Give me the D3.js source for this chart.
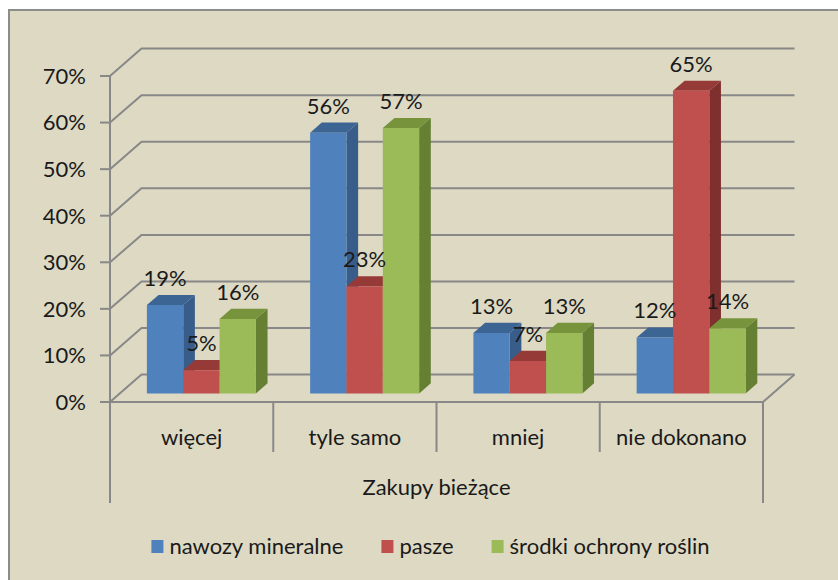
<!DOCTYPE html>
<html>
<head>
<meta charset="utf-8">
<script src="https://cdn.jsdelivr.net/npm/d3@7"></script>
<style>
  body { margin: 0; background: #fff; }
  text { font-family: Lato, "Liberation Sans", sans-serif; fill: #1a1a1a; }
</style>
</head>
<body>
<svg id="canvas"></svg>
<script>
//--chart data
const categories = ["więcej", "tyle samo", "mniej", "nie dokonano"];
const seriesNames = ["nawozy mineralne", "pasze", "środki ochrony roślin"];
const nawozy = [0.19, 0.56, 0.13, 0.12];
const pasze = [0.05, 0.23, 0.07, 0.65];
const srodki = [0.16, 0.57, 0.13, 0.14];
const yTicks = [0, 0.1, 0.2, 0.3, 0.4, 0.5, 0.6, 0.7];
const axisTitle = "Zakupy bieżące";
//--

//--canvas
let width = 838;
let height = 580;
let canvas = d3.select("#canvas").attr("width", width).attr("height", height);

// face colours: front, top, side
let colors = [
    ["#4F81BD", "#3C6594", "#385D8A"],
    ["#C0504D", "#963A38", "#7F2F2D"],
    ["#9BBB59", "#77933C", "#657F33"]
];
let gridColor = "#888888";
let fontSize = 22;

// depth offset of the 3d box
let DX = 31.5;
let DY = 27.4;
let z0 = 0.31, z1 = 0.68;
//--

canvas.append("rect")
    .attr("x", 9).attr("y", 10)
    .attr("width", width + 20).attr("height", height + 20)
    .attr("fill", "#DDD9C3")
    .attr("stroke", "#8C8C8C")
    .attr("stroke-width", 2);

let xScale = d3.scaleBand().domain(categories).range([110, 763]);
let yScale = d3.scaleLinear().domain([0, 0.7]).range([402, 76]);

let project = (x, v, z) => [x + z * DX, yScale(v) - z * DY];

let grid = canvas.append("g").attr("stroke", gridColor).attr("stroke-width", 2).attr("fill", "none");

// side wall and back wall gridlines
yTicks.forEach(t => {
    let a = project(xScale.range()[0], t, 0);
    let b = project(xScale.range()[0], t, 1);
    let c = project(xScale.range()[1], t, 1);
    grid.append("path").attr("d", d3.line()([a, b, c]));
});

// floor outline
let f1 = project(xScale.range()[0], 0, 0);
let f2 = project(xScale.range()[1], 0, 0);
let f3 = project(xScale.range()[1], 0, 1);
grid.append("path").attr("d", d3.line()([f1, f2, f3]));

// value axis line and ticks
grid.append("line").attr("x1", 110).attr("x2", 110).attr("y1", yScale(0.7)).attr("y2", 503);
yTicks.forEach(t => {
    grid.append("line").attr("x1", 100).attr("x2", 110).attr("y1", yScale(t)).attr("y2", yScale(t));
});

// category separators
categories.forEach((c, i) => {
    let x = xScale(c);
    if (i > 0) grid.append("line").attr("x1", x).attr("x2", x).attr("y1", 402).attr("y2", 452);
});
grid.append("line").attr("x1", 763).attr("x2", 763).attr("y1", 402).attr("y2", 503);

// tick labels
canvas.append("g").selectAll("text")
    .data(yTicks)
    .enter()
    .append("text")
    .attr("x", 86)
    .attr("y", d => yScale(d))
    .attr("dy", "0.36em")
    .attr("text-anchor", "end")
    .attr("font-size", fontSize)
    .text(d => Math.round(d * 100) + "%");

canvas.append("g").selectAll("text")
    .data(categories)
    .enter()
    .append("text")
    .attr("x", d => xScale(d) + xScale.bandwidth() / 2)
    .attr("y", 445)
    .attr("text-anchor", "middle")
    .attr("font-size", fontSize)
    .text(d => d);

canvas.append("text")
    .attr("x", (110 + 763) / 2)
    .attr("y", 495)
    .attr("text-anchor", "middle")
    .attr("font-size", fontSize)
    .text(axisTitle);

//--bars
let allSeries = [nawozy, pasze, srodki];
let groupWidth = 109 / 163.25;
let barW = xScale.bandwidth() * groupWidth / 3;
let bars = canvas.append("g");
let labels = canvas.append("g");

categories.forEach((c, i) => {
    let start = xScale(c) + xScale.bandwidth() * (1 - groupWidth) / 2;
    allSeries.forEach((s, j) => {
        let v = s[i];
        let xl = start + j * barW;
        let xr = xl + barW;
        let col = colors[j];
        let front = [project(xl, 0, z0), project(xr, 0, z0), project(xr, v, z0), project(xl, v, z0)];
        let top = [project(xl, v, z0), project(xr, v, z0), project(xr, v, z1), project(xl, v, z1)];
        let side = [project(xr, 0, z0), project(xr, 0, z1), project(xr, v, z1), project(xr, v, z0)];
        bars.append("path").attr("d", d3.line()(side) + "Z").attr("fill", col[2]);
        bars.append("path").attr("d", d3.line()(top) + "Z").attr("fill", col[1]);
        bars.append("path").attr("d", d3.line()(front) + "Z").attr("fill", col[0]);

        let lp = project((xl + xr) / 2, v, z1);
        labels.append("text")
            .attr("x", (xl + xr) / 2 + z0 * DX)
            .attr("y", lp[1] - 9)
            .attr("text-anchor", "middle")
            .attr("font-size", fontSize)
            .text(Math.round(v * 100) + "%");
    });
});
//--

//--legend
let legend = canvas.append("g");
let lx = 0;
seriesNames.forEach((n, j) => {
    legend.append("rect")
        .attr("x", lx).attr("y", 540)
        .attr("width", 12).attr("height", 13)
        .attr("fill", colors[j][0]);
    let t = legend.append("text")
        .attr("x", lx + 18).attr("y", 554)
        .attr("font-size", fontSize)
        .text(n);
    lx += 18 + t.node().getComputedTextLength() + 38;
});
let legendW = lx - 38;
legend.attr("transform", "translate(" + (430.5 - legendW / 2) + ",0)");
//--
</script>
</body>
</html>
